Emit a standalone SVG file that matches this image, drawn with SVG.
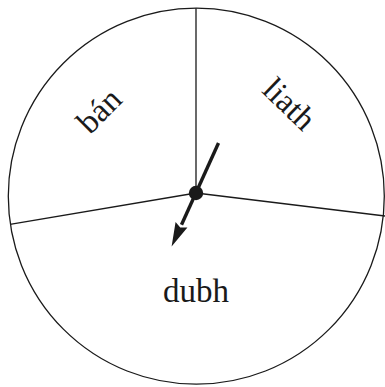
<svg xmlns="http://www.w3.org/2000/svg" width="385" height="387" viewBox="0 0 385 387">
<style>
.edge{stroke:#1a1a1a;stroke-width:1.3;fill:none}
.lbl{font-family:"Liberation Serif","Times New Roman",serif;font-size:33px;fill:#1a1a1a;text-anchor:middle}
</style>
<defs>
<marker id="ah" markerWidth="24" markerHeight="14" refX="0" refY="7" orient="auto" markerUnits="userSpaceOnUse">
<path d="M0,0.5 L24,7 L0,13.5 L3,7 Z" fill="#1a1a1a"/>
</marker>
</defs>
<rect width="385" height="387" fill="#fff"/>
<g id="wheel">
<circle cx="196.3" cy="196.2" r="188" class="edge"/>
</g>
<g id="connectors">
<line x1="196" y1="193" x2="196" y2="8.3" class="edge"/>
<line x1="196" y1="193" x2="10" y2="224.3" class="edge"/>
<line x1="196" y1="193" x2="385" y2="216" class="edge"/>
<line x1="218.5" y1="143" x2="181.5" y2="224.7" stroke="#1a1a1a" stroke-width="3.4" marker-end="url(#ah)"/>
</g>
<g id="hub">
<circle cx="196" cy="193" r="7.2" fill="#1a1a1a"/>
</g>
<g id="ban">
<text class="lbl" transform="translate(99,110.5) rotate(-45)" y="11">bán</text>
</g>
<g id="liath">
<text class="lbl" transform="translate(289.5,104) rotate(44)" y="11">liath</text>
</g>
<g id="dubh">
<text class="lbl" x="196" y="302">dubh</text>
</g>
</svg>
